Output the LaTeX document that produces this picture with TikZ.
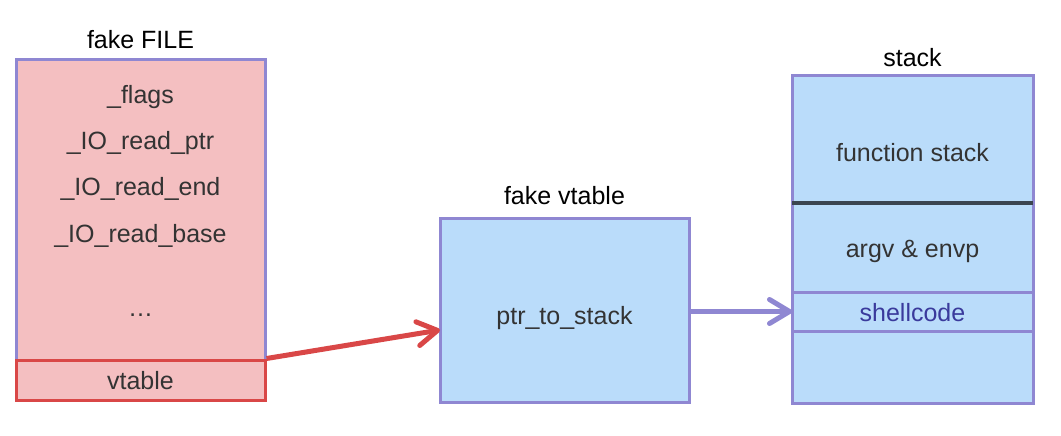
\documentclass[tikz,border=0pt]{standalone}
\usepackage{fontspec}
\setmainfont{Liberation Sans}
\usetikzlibrary{positioning,arrows.meta}

\definecolor{boxline}{HTML}{8F87D2}
\definecolor{filefill}{HTML}{F4BFC1}
\definecolor{stackfill}{HTML}{BADCFA}
\definecolor{ptrred}{HTML}{D94747}
\definecolor{sepline}{HTML}{3B4550}
\definecolor{labeltext}{HTML}{333333}
\definecolor{codetext}{HTML}{3A3A9C}

\tikzset{
  every node/.style={font=\fontsize{25}{29}\selectfont, text=labeltext},
  title/.style={text=black, inner sep=0pt},
  field/.style={inner sep=0pt, text height=18pt, text depth=6pt},
  filebox/.style={draw=boxline, fill=filefill, line width=3pt, minimum width=249pt},
  redbox/.style={draw=ptrred, fill=filefill, line width=3pt, minimum width=249pt, minimum height=40pt},
  stackbox/.style={draw=boxline, fill=stackfill, line width=3pt, minimum width=241pt, outer sep=0pt},
  pointer/.style={line width=5pt, -{Straight Barb[length=20pt,width=24pt,round]}},
}

\begin{document}
\begin{tikzpicture}[x=1pt, y=-1pt, node distance=22pt]
  \useasboundingbox (0,0) rectangle (1061,436);

  % fake FILE
  \node [filebox, minimum height=340pt] (file) at (140.5,230) {};
  \node [redbox, anchor=south] (vtable) at (file.south) {};
  \node [field] (vtabletext) at (140.5,383) {vtable};
  \node [title, above=10pt of file] (filetitle) {fake FILE};
  \node [field] (flags) at (140.5,97) {\_flags};
  \node [field, below=of flags] (readptr) {\_IO\_read\_ptr};
  \node [field, below=of readptr] (readend) {\_IO\_read\_end};
  \node [field, below=of readend] (readbase) {\_IO\_read\_base};
  \node [field] (dots) at (140.5,310) {\dots};

  % fake vtable
  \node [stackbox, minimum width=249pt, minimum height=184pt] (fakevt) at (564.5,310) {};
  \node [field] (ptrtext) at (564.5,318) {ptr\_to\_stack};
  \node [title, above=13pt of fakevt] (vttitle) {fake vtable};

  % stack
  \node [stackbox, minimum height=127pt, anchor=north] (funcstack) at (912.5,76) {};
  \node [field] (functext) at (912.5,155) {function stack};
  \node [stackbox, minimum height=89pt, below=0pt of funcstack] (argenv) {};
  \node [field, yshift=-4pt] (argtext) at (argenv.center) {argv \& envp};
  \node [stackbox, minimum height=39pt, below=0pt of argenv] (shellcode) {};
  \node [field, text=codetext, yshift=-4pt] (shelltext) at (shellcode.center) {shellcode};
  \node [stackbox, minimum height=72pt, below=0pt of shellcode] (bottom) {};
  \draw [sepline, line width=3.5pt] (funcstack.south west) -- (funcstack.south east);
  \node [title, above=9pt of funcstack] (stacktitle) {stack};

  % pointers
  \draw [pointer, ptrred] (vtable.north east) -- ([yshift=-20pt]fakevt.west);
  \draw [pointer, boxline] (fakevt.east |- shellcode.west) -- (shellcode.west);
\end{tikzpicture}
\end{document}
